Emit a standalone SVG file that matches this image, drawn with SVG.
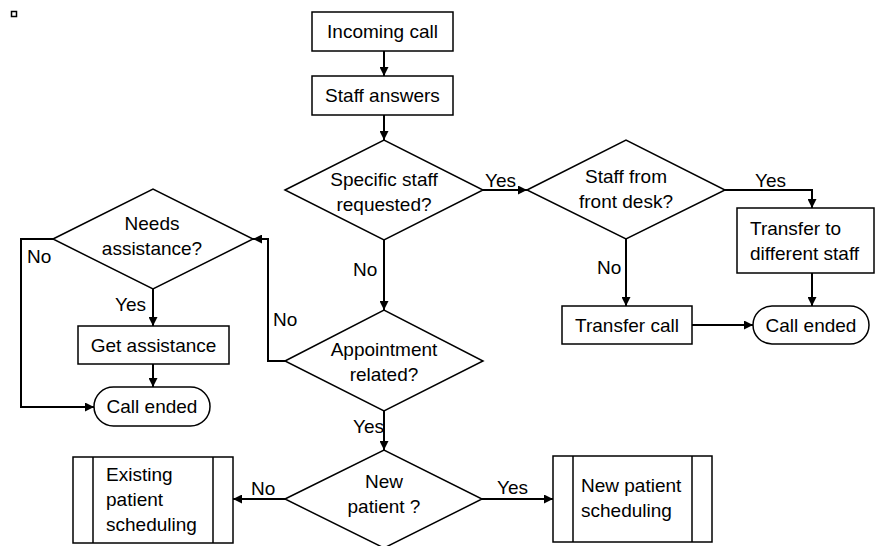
<svg xmlns="http://www.w3.org/2000/svg" width="878" height="546" viewBox="0 0 878 546">
<defs>
<marker id="ah" viewBox="0 0 10 10" refX="10" refY="5" markerWidth="9" markerHeight="9" markerUnits="userSpaceOnUse" orient="auto">
<path d="M0,0 L10,5 L0,10 z" fill="#000"/>
</marker>
<style>
.s{fill:#fff;stroke:#000;stroke-width:1.5}
.c{fill:none;stroke:#000;stroke-width:2;marker-end:url(#ah)}
text{font-family:"Liberation Sans",Arial,sans-serif;font-size:19px;fill:#000}
.m{text-anchor:middle}
</style>
</defs>
<rect x="11.5" y="11.5" width="5" height="5" fill="none" stroke="#000" stroke-width="1.5"/>
<g id="connectors">
<path class="c" d="M384,51 V76"/>
<path class="c" d="M384,115 V140"/>
<path class="c" d="M483,190 H527"/>
<path class="c" d="M725,190 H812 V208"/>
<path class="c" d="M626,239 V306"/>
<path class="c" d="M812,273 V306"/>
<path class="c" d="M692,325 H753"/>
<path class="c" d="M384,240 V310"/>
<path class="c" d="M285,361 H268 V239 H253"/>
<path class="c" d="M153,289 V326"/>
<path class="c" d="M153,364 V387"/>
<path class="c" d="M53,239 H21 V407 H94"/>
<path class="c" d="M384,411 V450"/>
<path class="c" d="M285,499 H233"/>
<path class="c" d="M482,499 H553"/>
<text x="485" y="187">Yes</text>
<text x="755" y="187">Yes</text>
<text x="597" y="274">No</text>
<text x="353" y="276">No</text>
<text x="273" y="326">No</text>
<text x="27" y="263">No</text>
<text x="115" y="311">Yes</text>
<text x="353" y="433">Yes</text>
<text x="251" y="495">No</text>
<text x="497" y="494">Yes</text>
</g>
<g id="incoming">
<rect class="s" x="312" y="12" width="141" height="39"/>
<text class="m" x="382.5" y="38">Incoming call</text>
</g>
<g id="staff-answers">
<rect class="s" x="312" y="76" width="141" height="39"/>
<text class="m" x="382.5" y="102">Staff answers</text>
</g>
<g id="specific">
<polygon class="s" points="285,190 384,140 483,190 384,240"/>
<text class="m" x="384" y="186">Specific staff</text>
<text class="m" x="384" y="211">requested?</text>
</g>
<g id="front-desk">
<polygon class="s" points="527,190 626,140 725,190 626,239"/>
<text class="m" x="626" y="183">Staff from</text>
<text class="m" x="626" y="208">front desk?</text>
</g>
<g id="transfer-different">
<rect class="s" x="737" y="208" width="137" height="65"/>
<text x="750" y="235">Transfer to</text>
<text x="750" y="260">different staff</text>
</g>
<g id="transfer-call">
<rect class="s" x="562" y="306" width="130" height="38"/>
<text class="m" x="627" y="332">Transfer call</text>
</g>
<g id="call-ended-right">
<rect class="s" x="753" y="306" width="116" height="38" rx="19" ry="19"/>
<text class="m" x="811" y="332">Call ended</text>
</g>
<g id="needs">
<polygon class="s" points="53,239 153,189 253,239 153,289"/>
<text class="m" x="152" y="230">Needs</text>
<text class="m" x="152" y="255">assistance?</text>
</g>
<g id="appointment">
<polygon class="s" points="285,361 384,310 483,361 384,411"/>
<text class="m" x="384" y="356">Appointment</text>
<text class="m" x="384" y="381">related?</text>
</g>
<g id="get-assistance">
<rect class="s" x="78" y="326" width="151" height="38"/>
<text class="m" x="153.5" y="352">Get assistance</text>
</g>
<g id="call-ended-left">
<rect class="s" x="94" y="387" width="116" height="39" rx="19.5" ry="19.5"/>
<text class="m" x="152" y="413">Call ended</text>
</g>
<g id="new-patient">
<polygon class="s" points="285,499 384,450 482,499 384,548"/>
<text class="m" x="384" y="488">New</text>
<text class="m" x="384" y="513">patient ?</text>
</g>
<g id="existing-scheduling">
<rect class="s" x="73" y="457" width="160" height="86"/>
<line x1="93" y1="457" x2="93" y2="543" stroke="#000" stroke-width="1.5"/>
<line x1="213" y1="457" x2="213" y2="543" stroke="#000" stroke-width="1.5"/>
<text x="106" y="481">Existing</text>
<text x="106" y="506">patient</text>
<text x="106" y="531">scheduling</text>
</g>
<g id="new-scheduling">
<rect class="s" x="553" y="456" width="159" height="86"/>
<line x1="573" y1="456" x2="573" y2="542" stroke="#000" stroke-width="1.5"/>
<line x1="692" y1="456" x2="692" y2="542" stroke="#000" stroke-width="1.5"/>
<text x="581" y="492">New patient</text>
<text x="581" y="517">scheduling</text>
</g>
</svg>
